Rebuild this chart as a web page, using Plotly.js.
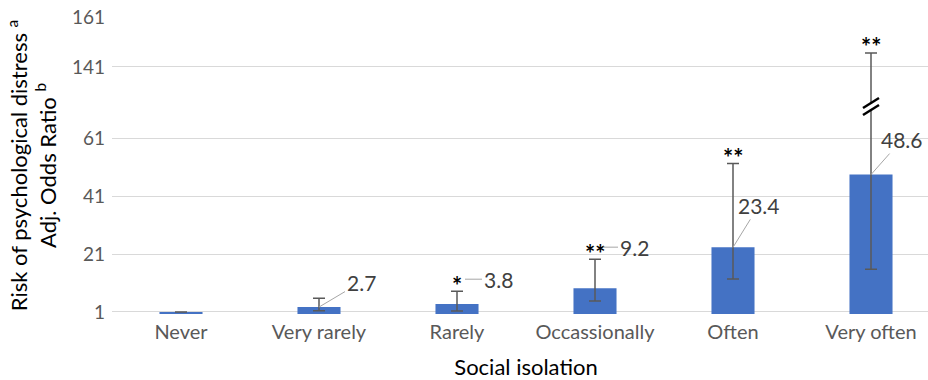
<!DOCTYPE html>
<html>
<head>
<meta charset="utf-8">
<script src="https://cdn.plot.ly/plotly-3.0.1.min.js"></script>
<style>
html,body{margin:0;padding:0;overflow:hidden;background:#fff;}
#chart{width:940px;height:380px;}
</style>
</head>
<body>
<div id="chart"></div>
<script>
// ---- data ----
const categories = ["Never", "Very rarely", "Rarely", "Occassionally", "Often", "Very often"];
const oddsRatio = [1, 2.7, 3.8, 9.2, 23.4, 48.6];
const ciLow = [null, 1.4, 1.3, 4.8, 12.4, 15.8];
const ciHigh = [null, 5.8, 8.2, 19.3, 52.4, 146.6];
const significance = ["", "", "*", "**", "**", "**"];
const valueLabels = ["", "2.7", "3.8", "9.2", "23.4", "48.6"];
const yTickLabels = [1, 21, 41, 61, 141, 161];

// ---- broken-axis transform (axis config) ----
const seg1 = 24.9, seg2 = 17.3;
function disp(v) {
  if (v <= 61) return v;
  if (v <= 141) return 61 + (v - 61) * seg1 / 80;
  return 61 + seg1 + (v - 141) * seg2 / 20;
}

const dispY = oddsRatio.map(disp);
const errPlus = ciHigh.map((h, i) => h == null ? null : disp(h) - dispY[i]);
const errMinus = ciLow.map((l, i) => l == null ? null : dispY[i] - disp(l));

const FONT = "Lato, 'Open Sans', sans-serif";

const trace = {
  type: "bar",
  x: categories,
  y: dispY,
  marker: {color: "#4472C4"},
  error_y: {
    type: "data", symmetric: false,
    array: errPlus, arrayminus: errMinus,
    color: "#595959", thickness: 1.5, width: 6
  },
  hoverinfo: "skip"
};

const annotations = [];
// significance stars
categories.forEach((c, i) => {
  if (!significance[i]) return;
  annotations.push({
    x: c, y: disp(ciHigh[i]), xref: "x", yref: "y",
    text: "<b>" + significance[i] + "</b>", showarrow: false,
    font: {family: FONT, size: 24, color: "#000"},
    yanchor: "middle", yshift: 6
  });
});
// value labels with leader lines
const labelOffsets = {
  1: {mode: "bar", ax: 42, ay: -25},
  2: {mode: "star", ax: 33},
  3: {mode: "star", ax: 31},
  4: {mode: "bar", ax: 26, ay: -42},
  5: {mode: "bar", ax: 31, ay: -35}
};
categories.forEach((c, i) => {
  if (!valueLabels[i]) return;
  const o = labelOffsets[i];
  const a = {
    xref: "x", yref: "y", x: c, text: valueLabels[i], showarrow: true,
    arrowhead: 0, arrowwidth: 1, arrowcolor: "#a6a6a6",
    font: {family: FONT, size: 21, color: "#404040"}
  };
  if (o.mode === "bar") {
    a.y = dispY[i]; a.ax = o.ax; a.ay = o.ay;
  } else {
    a.y = disp(ciHigh[i]); a.yshift = 12; a.xshift = 8; a.ax = o.ax; a.ay = 0;
  }
  annotations.push(a);
});

// axis break marker on the last error bar
const breakIdx = 5;
const breakY = disp(61) + 0.45 * (disp(141) - disp(61));
const pxX = 6 / 828, pxY = 1 / 2.89;
const shapes = [];
shapes.push({type: "line", xref: "x", yref: "y",
  x0: breakIdx - 8 * pxX, y0: breakY - 5 * pxY, x1: breakIdx + 8 * pxX, y1: breakY + 5 * pxY,
  line: {color: "#ffffff", width: 5}});
[-3.5, 3.5].forEach(d => {
  shapes.push({type: "line", xref: "x", yref: "y",
    x0: breakIdx - 8 * pxX, y0: breakY + (d - 5) * pxY, x1: breakIdx + 8 * pxX, y1: breakY + (d + 5) * pxY,
    line: {color: "#000000", width: 2.5}});
});

const layout = {
  width: 940, height: 380,
  margin: {l: 112, r: 0, t: 17, b: 66},
  paper_bgcolor: "#fff", plot_bgcolor: "#fff",
  showlegend: false,
  bargap: 0.688,
  font: {family: FONT, color: "#595959"},
  xaxis: {
    type: "category", automargin: false,
    tickfont: {family: FONT, size: 20, color: "#595959"},
    ticklabelstandoff: 4,
    showgrid: false, zeroline: false, showline: false, ticks: "",
    title: {text: "Social isolation", font: {family: FONT, size: 22, color: "#000"}, standoff: 17}
  },
  yaxis: {
    range: [0.3, disp(161)], automargin: false,
    tickvals: yTickLabels.map(disp), ticktext: yTickLabels.map(String),
    tickfont: {family: FONT, size: 19, color: "#595959"},
    gridcolor: "#d9d9d9", gridwidth: 1, zeroline: false, showline: false, ticks: "",
    ticklabelstandoff: 6,
    title: {text: "Risk of psychological distress <sup>a</sup><br>Adj. Odds Ratio <sup>b</sup>",
      font: {family: FONT, size: 22, color: "#000"}, standoff: 9}
  },
  annotations: annotations,
  shapes: shapes
};

Plotly.newPlot("chart", [trace], layout, {displayModeBar: false, staticPlot: true});
</script>
</body>
</html>
